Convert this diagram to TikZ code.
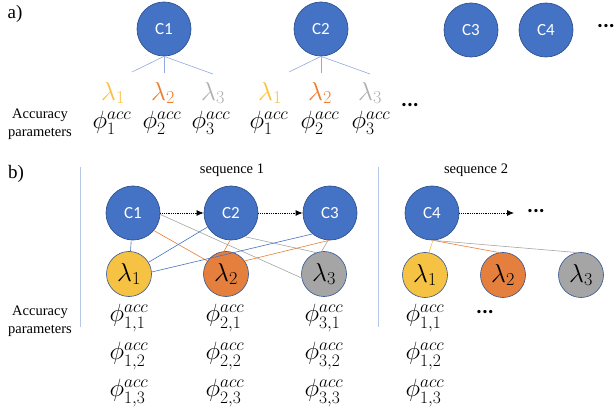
\RequirePackage{fix-cm}
\documentclass[tikz,border=0pt]{standalone}
\usepackage{fontspec}
\setmainfont{Liberation Serif}
\newfontfamily\calibri{Carlito}
\usetikzlibrary{arrows.meta}

\definecolor{cblue}{HTML}{4472C4}
\definecolor{cedge}{HTML}{2F528F}
\definecolor{lyellow}{HTML}{F6C243}
\definecolor{lorange}{HTML}{E47F3E}
\definecolor{lgray}{HTML}{A5A5A5}
\definecolor{tyellow}{HTML}{F9C23C}
\definecolor{torange}{HTML}{ED7D31}
\definecolor{tgray}{HTML}{B0B0B0}
\definecolor{linkblue}{HTML}{8FAADC}
\definecolor{sepblue}{HTML}{B4C7E7}

\tikzset{
  cnode/.style={circle, fill=cblue, draw=cedge, line width=0.7pt,
    minimum size=54pt, inner sep=0pt, text=white,
    font=\calibri\fontsize{17}{20}\selectfont},
  lnode/.style={circle, draw=cedge, line width=0.6pt,
    minimum size=45pt, inner sep=0pt, font=\fontsize{26}{30}\selectfont},
  lamtext/.style={inner sep=0pt, font=\fontsize{26}{30}\selectfont},
  phitext/.style={inner sep=0pt, font=\fontsize{25}{30}\selectfont},
  caption/.style={align=center, inner sep=0pt,
    font=\fontsize{14.5}{18}\selectfont},
  partlabel/.style={inner sep=0pt, font=\fontsize{19}{22}\selectfont},
  dotsnode/.style={inner sep=0pt, font=\calibri\bfseries\fontsize{22}{24}\selectfont},
  alink/.style={draw=linkblue, line width=0.6pt},
  blinkb/.style={draw=cblue, line width=0.6pt},
  blinko/.style={draw=torange, line width=0.6pt},
  blinkg/.style={draw=lgray, line width=0.6pt},
  blinky/.style={draw=tyellow, line width=0.6pt},
  seqarrow/.style={densely dotted, line width=0.8pt, -{Latex[length=7pt,width=6pt]}},
  separator/.style={draw=sepblue, line width=1pt}
}

\begin{document}
\begin{tikzpicture}[x=1pt, y=-1pt]
\useasboundingbox (0,0) rectangle (615,411);

% ---------- part a) ----------
\node[partlabel] (la) at (15,14) {a)};

\node[cnode] (a1) at (164,29) {C1};
\node[cnode] (a2) at (321,29) {C2};
\node[cnode] (a3) at (471,30) {C3};
\node[cnode] (a4) at (546,30) {C4};
\node[dotsnode] (adots) at (606,26) {...};

\coordinate (a1l) at (132,72);
\coordinate (a1m) at (164,73);
\coordinate (a1r) at (213,74);
\coordinate (a2l) at (289,72);
\coordinate (a2m) at (321,73);
\coordinate (a2r) at (370,74);
\draw[alink] (a1.south) -- (a1l);
\draw[alink] (a1.south) -- (a1m);
\draw[alink] (a1.south) -- (a1r);
\draw[alink] (a2.south) -- (a2l);
\draw[alink] (a2.south) -- (a2m);
\draw[alink] (a2.south) -- (a2r);

\node[lamtext, text=tyellow] (al11) at (113,93) {$\lambda_1$};
\node[lamtext, text=torange] (al12) at (163,93) {$\lambda_2$};
\node[lamtext, text=tgray]   (al13) at (213,93) {$\lambda_3$};
\node[lamtext, text=tyellow] (al21) at (270,93) {$\lambda_1$};
\node[lamtext, text=torange] (al22) at (320,93) {$\lambda_2$};
\node[lamtext, text=tgray]   (al23) at (370,93) {$\lambda_3$};

\node[caption] (acap) at (40,124) {Accuracy\\parameters};
\node[phitext] (ap11) at (112,123) {$\phi_1^{acc}$};
\node[phitext] (ap12) at (162,123) {$\phi_2^{acc}$};
\node[phitext] (ap13) at (211,123) {$\phi_3^{acc}$};
\node[phitext] (ap21) at (269,123) {$\phi_1^{acc}$};
\node[phitext] (ap22) at (320,123) {$\phi_2^{acc}$};
\node[phitext] (ap23) at (371,123) {$\phi_3^{acc}$};
\node[dotsnode] (apdots) at (410,105) {...};

% ---------- part b) ----------
\node[partlabel] (lb) at (16,174) {b)};

\coordinate (s1t) at (80,167);
\coordinate (s1b) at (80,327);
\coordinate (s2t) at (378,167);
\coordinate (s2b) at (378,327);
\draw[separator] (s1t) -- (s1b);
\draw[separator] (s2t) -- (s2b);

\node[caption] (seq1) at (232,170) {sequence 1};
\node[caption] (seq2) at (476,170) {sequence 2};

\node[cnode] (b1) at (133,213) {C1};
\node[cnode] (b2) at (231,213) {C2};
\node[cnode] (b3) at (330,213) {C3};
\node[cnode] (b4) at (432,213) {C4};
\coordinate (b4end) at (514,213);
\node[dotsnode] (bdots) at (536,211) {...};

\draw[seqarrow] (b1) -- (b2);
\draw[seqarrow] (b2) -- (b3);
\draw[seqarrow] (b4) -- (b4end);

\node[lnode, fill=lyellow] (L1) at (129,274) {$\lambda_1$};
\node[lnode, fill=lorange] (L2) at (226,274) {$\lambda_2$};
\node[lnode, fill=lgray]   (L3) at (324,274) {$\lambda_3$};
\node[lnode, fill=lyellow] (M1) at (425,275) {$\lambda_1$};
\node[lnode, fill=lorange] (M2) at (503,275) {$\lambda_2$};
\node[lnode, fill=lgray]   (M3) at (581,275) {$\lambda_3$};

% links of sequence 1
\draw[blinkb] (b1) -- (L1);
\draw[blinko] (b1.-40) -- (L2.145);
\draw[blinkg] (b1.-3) -- (L3.190);
\draw[blinkb] (b2) -- (L1);
\draw[blinko] (b2.-92) -- (L2.95);
\draw[blinkg] (b2.-60) -- (L3.110);
\draw[blinkb] (b3.230) -- (L1.5);
\draw[blinko] (b3.-92) -- (L2.35);
\draw[blinkg] (b3.-94) -- (L3.96);

% links of sequence 2
\draw[blinky] (b4.-88) -- (M1.80);
\draw[blinko] (b4.-88) -- (M2.100);
\draw[blinkg] (b4.-88) -- (M3.100);

\node[caption] (bcap) at (40,321) {Accuracy\\parameters};

\node[phitext] (p11) at (129,318) {$\phi_{1,1}^{acc}$};
\node[phitext] (p12) at (129,356) {$\phi_{1,2}^{acc}$};
\node[phitext] (p13) at (129,393) {$\phi_{1,3}^{acc}$};
\node[phitext] (p21) at (225,318) {$\phi_{2,1}^{acc}$};
\node[phitext] (p22) at (225,356) {$\phi_{2,2}^{acc}$};
\node[phitext] (p23) at (225,393) {$\phi_{2,3}^{acc}$};
\node[phitext] (p31) at (324,318) {$\phi_{3,1}^{acc}$};
\node[phitext] (p32) at (324,356) {$\phi_{3,2}^{acc}$};
\node[phitext] (p33) at (324,393) {$\phi_{3,3}^{acc}$};
\node[phitext] (q11) at (425,318) {$\phi_{1,1}^{acc}$};
\node[phitext] (q12) at (425,356) {$\phi_{1,2}^{acc}$};
\node[phitext] (q13) at (425,393) {$\phi_{1,3}^{acc}$};
\node[dotsnode] (pdots) at (485,312) {...};
\end{tikzpicture}
\end{document}
